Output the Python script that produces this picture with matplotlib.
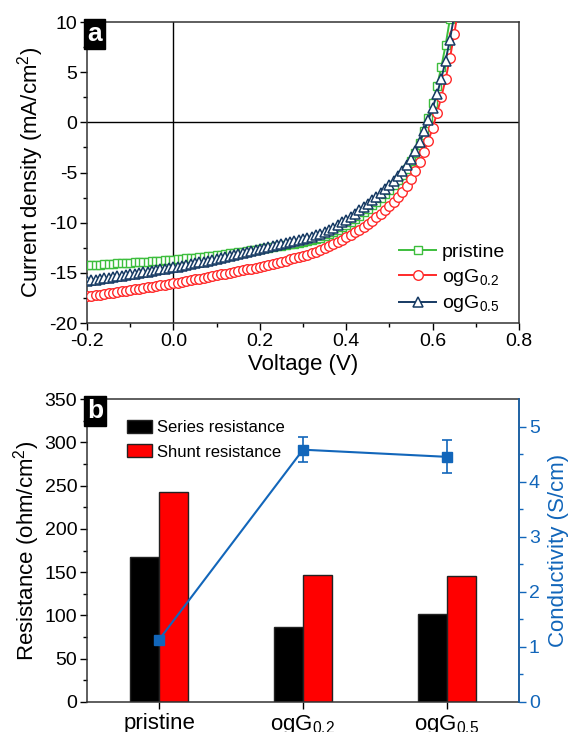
import matplotlib
matplotlib.use("Agg")
import matplotlib.pyplot as plt
from matplotlib.patches import Patch

plt.rcParams['font.family'] = ['Liberation Sans', 'DejaVu Sans']
plt.rcParams['mathtext.fontset'] = 'custom'
plt.rcParams['mathtext.rm'] = 'Liberation Sans'
plt.rcParams['mathtext.it'] = 'Liberation Sans:italic'
plt.rcParams['mathtext.bf'] = 'Liberation Sans:bold'

# ---------------- data: panel a (J-V curves) ----------------
voltage = [-0.20, -0.19, -0.18, -0.17, -0.16, -0.15, -0.14, -0.13, -0.12, -0.11,
           -0.10, -0.09, -0.08, -0.07, -0.06, -0.05, -0.04, -0.03, -0.02, -0.01,
           0.00, 0.01, 0.02, 0.03, 0.04, 0.05, 0.06, 0.07, 0.08, 0.09,
           0.10, 0.11, 0.12, 0.13, 0.14, 0.15, 0.16, 0.17, 0.18, 0.19,
           0.20, 0.21, 0.22, 0.23, 0.24, 0.25, 0.26, 0.27, 0.28, 0.29,
           0.30, 0.31, 0.32, 0.33, 0.34, 0.35, 0.36, 0.37, 0.38, 0.39,
           0.40, 0.41, 0.42, 0.43, 0.44, 0.45, 0.46, 0.47, 0.48, 0.49,
           0.50, 0.51, 0.52, 0.53, 0.54, 0.55, 0.56, 0.57, 0.58, 0.59,
           0.60, 0.61, 0.62, 0.63, 0.64, 0.65, 0.66]

j_pristine = [-14.25, -14.22, -14.20, -14.17, -14.14, -14.11, -14.09, -14.06, -14.03, -14.00,
              -13.98, -13.95, -13.92, -13.89, -13.87, -13.84, -13.81, -13.78, -13.76, -13.73,
              -13.70, -13.65, -13.61, -13.56, -13.52, -13.47, -13.42, -13.37, -13.32, -13.27,
              -13.22, -13.17, -13.12, -13.06, -13.01, -12.95, -12.89, -12.83, -12.76, -12.70,
              -12.63, -12.56, -12.49, -12.42, -12.35, -12.29, -12.22, -12.16, -12.09, -12.03,
              -11.96, -11.87, -11.77, -11.65, -11.51, -11.35, -11.16, -10.95, -10.72, -10.47,
              -10.20, -9.91, -9.61, -9.29, -8.96, -8.62, -8.27, -7.91, -7.53, -7.13,
              -6.71, -6.25, -5.75, -5.20, -4.60, -3.90, -3.10, -2.10, -0.90, 0.40,
              1.90, 3.60, 5.50, 7.70, 10.30, 13.20, 16.30]

j_ogG02 = [-17.35, -17.29, -17.22, -17.16, -17.09, -17.03, -16.96, -16.90, -16.83, -16.77,
           -16.70, -16.64, -16.57, -16.51, -16.44, -16.38, -16.31, -16.25, -16.18, -16.12,
           -16.05, -15.97, -15.90, -15.82, -15.74, -15.66, -15.58, -15.50, -15.42, -15.33,
           -15.25, -15.16, -15.08, -14.99, -14.91, -14.82, -14.74, -14.65, -14.57, -14.48,
           -14.40, -14.30, -14.20, -14.10, -13.99, -13.88, -13.77, -13.66, -13.54, -13.42,
           -13.30, -13.17, -13.04, -12.90, -12.76, -12.57, -12.37, -12.16, -11.94, -11.71,
           -11.47, -11.22, -10.96, -10.69, -10.41, -10.11, -9.80, -9.47, -9.12, -8.75,
           -8.35, -7.91, -7.43, -6.90, -6.30, -5.62, -4.85, -3.98, -2.98, -1.85,
           -0.55, 0.90, 2.50, 4.30, 6.40, 8.80, 11.50]

j_ogG05 = [-15.80, -15.74, -15.68, -15.61, -15.55, -15.48, -15.42, -15.35, -15.29, -15.22,
           -15.15, -15.08, -15.01, -14.94, -14.87, -14.80, -14.73, -14.66, -14.59, -14.52,
           -14.45, -14.37, -14.29, -14.21, -14.13, -14.05, -13.96, -13.88, -13.79, -13.71,
           -13.62, -13.53, -13.44, -13.34, -13.25, -13.15, -13.05, -12.95, -12.85, -12.75,
           -12.65, -12.55, -12.45, -12.35, -12.25, -12.15, -12.05, -11.95, -11.85, -11.75,
           -11.65, -11.53, -11.40, -11.26, -11.10, -10.92, -10.71, -10.48, -10.24, -9.98,
           -9.70, -9.41, -9.10, -8.78, -8.45, -8.11, -7.76, -7.40, -7.03, -6.65,
           -6.25, -5.83, -5.37, -4.86, -4.28, -3.62, -2.85, -1.95, -0.90, 0.25,
           1.45, 2.80, 4.35, 6.15, 8.25, 10.65, 13.30]

# ---------------- data: panel b ----------------
samples = ['pristine', 'ogG$_{0.2}$', 'ogG$_{0.5}$']
series_res = [168, 87, 102]
shunt_res = [243, 147, 146]
conductivity = [1.13, 4.58, 4.45]
conductivity_err = [0.04, 0.23, 0.30]

GREEN = '#3DBE3D'
RED = '#FF2A2A'
NAVY = '#163A63'
BLUE = '#1266BA'

fig = plt.figure(figsize=(5.71, 7.32), dpi=100)

# ---------------- panel a ----------------
ax = fig.add_axes([0.1524, 0.5587, 0.7566, 0.4112])
ms = 6.3
ax.plot(voltage, j_pristine, '-s', color=GREEN, mfc='white', mec=GREEN, ms=ms, mew=1.0, lw=1.4, label='pristine', zorder=3)
ax.plot(voltage, j_ogG02, '-o', color=RED, mfc='white', mec=RED, ms=ms + 0.6, mew=1.0, lw=1.4, label='ogG$_{0.2}$', zorder=4)
ax.plot(voltage, j_ogG05, '-^', color=NAVY, mfc='white', mec=NAVY, ms=ms + 0.6, mew=1.1, lw=1.4, label='ogG$_{0.5}$', zorder=5)
ax.axhline(0, color='black', lw=1.0, zorder=2)
ax.axvline(0, color='black', lw=1.0, zorder=2)
ax.set_xlim(-0.2, 0.8)
ax.set_ylim(-20, 10)
ax.set_xticks([-0.2, 0.0, 0.2, 0.4, 0.6, 0.8])
ax.set_xticklabels(['-0.2', '0.0', '0.2', '0.4', '0.6', '0.8'])
ax.set_xticks([-0.1, 0.1, 0.3, 0.5, 0.7], minor=True)
ax.set_yticks([-20, -15, -10, -5, 0, 5, 10])
ax.set_yticklabels(['-20', '-15', '-10', '-5', '0', '5', '10'])
ax.set_yticks([-17.5, -12.5, -7.5, -2.5, 2.5, 7.5], minor=True)
ax.tick_params(which='major', length=5, width=1.0, labelsize=14, direction='out', pad=2)
ax.tick_params(which='minor', length=3, width=1.0, direction='out')
for sp in ax.spines.values():
    sp.set_linewidth(1.1)
    sp.set_color('#333333')
ax.set_xlabel('Voltage (V)', fontsize=16, labelpad=3)
ax.set_ylabel('Current density (mA/cm$^2$)', fontsize=16, labelpad=2)
leg = ax.legend(loc='lower right', bbox_to_anchor=(0.995, -0.01), frameon=False, fontsize=14,
                handlelength=1.9, handletextpad=0.3, labelspacing=0.3, borderaxespad=0.2)
ax.text(0.0, 1.0, 'a', transform=ax.transAxes, ha='left', va='top', color='white',
        fontsize=19, fontweight='bold',
        bbox=dict(facecolor='black', edgecolor='black', boxstyle='square,pad=0.12'))

# ---------------- panel b ----------------
bx = fig.add_axes([0.1524, 0.0410, 0.7566, 0.4139])
pos = [0, 1, 2]
w = 0.2
bx.bar([p - w / 2 for p in pos], series_res, width=w, color='black', edgecolor='#222222', lw=1.0, zorder=2)
bx.bar([p + w / 2 for p in pos], shunt_res, width=w, color='#FF0000', edgecolor='#222222', lw=1.0, zorder=2)
bx.set_xlim(-0.5, 2.5)
bx.set_ylim(0, 350)
bx.set_xticks(pos)
bx.set_xticklabels(samples, fontsize=16)
bx.set_yticks(range(0, 351, 50))
bx.set_yticks(range(25, 350, 50), minor=True)
bx.tick_params(which='major', length=5, width=1.0, labelsize=14, direction='out', pad=2)
bx.tick_params(axis='x', labelsize=16, pad=3)
bx.tick_params(which='minor', length=3, width=1.0, direction='out')
for sp in bx.spines.values():
    sp.set_linewidth(1.1)
    sp.set_color('#333333')
bx.set_ylabel('Resistance (ohm/cm$^2$)', fontsize=16, labelpad=2)
handles = [Patch(facecolor='black', edgecolor='#222222'), Patch(facecolor='#FF0000', edgecolor='#222222')]
bx.legend(handles, ['Series resistance', 'Shunt resistance'], loc='upper left',
          bbox_to_anchor=(0.07, 0.965), frameon=False, fontsize=12,
          handlelength=1.5, handleheight=0.85, handletextpad=0.3, labelspacing=0.55, borderaxespad=0.2)
bx.text(0.0, 1.0, 'b', transform=bx.transAxes, ha='left', va='top', color='white',
        fontsize=19, fontweight='bold',
        bbox=dict(facecolor='black', edgecolor='black', boxstyle='square,pad=0.12'))

cx = bx.twinx()
cx.errorbar(pos, conductivity, yerr=conductivity_err, color=BLUE, lw=1.5, marker='s', ms=7,
            capsize=3.5, elinewidth=1.2, capthick=1.2, zorder=5)
cx.set_ylim(0, 5.5)
cx.set_yticks([0, 1, 2, 3, 4, 5])
cx.set_yticks([0.5, 1.5, 2.5, 3.5, 4.5], minor=True)
cx.tick_params(which='major', length=5, width=1.0, labelsize=14, colors=BLUE, direction='out', pad=2)
cx.tick_params(which='minor', length=3, width=1.0, colors=BLUE, direction='out')
cx.spines['right'].set_color(BLUE)
cx.spines['right'].set_linewidth(1.1)
for s in ['top', 'left', 'bottom']:
    cx.spines[s].set_visible(False)
cx.set_ylabel('Conductivity (S/cm)', fontsize=16, color=BLUE, labelpad=6)

fig.savefig('out.png', dpi=100)
